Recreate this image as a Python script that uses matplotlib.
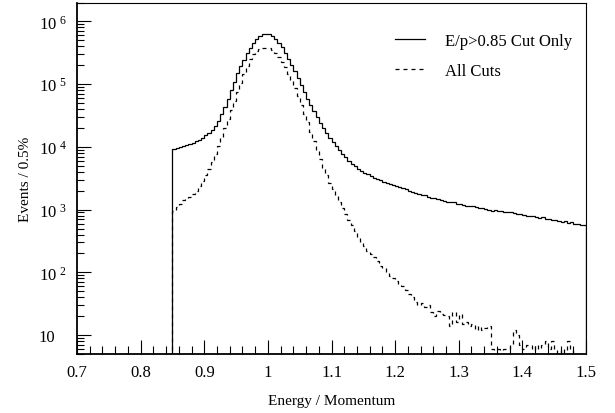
import numpy as np
import matplotlib
matplotlib.use("Agg")
import matplotlib.pyplot as plt
from matplotlib.ticker import FixedLocator, FuncFormatter, MultipleLocator

plt.rcParams['font.family'] = ['Liberation Serif', 'DejaVu Serif']
plt.rcParams['mathtext.fontset'] = 'custom'
plt.rcParams['mathtext.rm'] = 'Liberation Serif'

# 0.5% bins in E/p from 0.85 to 1.50
bin_lo = 0.85
bin_hi = 1.50

# E/p > 0.85 cut only
ep_cut_only = [
    9300, 9600, 9900, 10300, 10700, 11100, 11600, 12300, 13000, 14000,
    15200, 16600, 18500, 21500, 26000, 33000, 43000, 58000, 80000, 110000,
    148000, 195000, 245000, 310000, 380000, 450000, 525000, 585000, 625000, 640000,
    620000, 580000, 520000, 450000, 385000, 315000, 255000, 205000, 160000, 125000,
    98000, 76000, 59000, 46000, 37000, 29500, 24000, 19800, 16500, 14000,
    12000, 10300, 8800, 7700, 6800, 6000, 5400, 4900, 4500, 4200,
    3900, 3650, 3450, 3250, 3100, 2950, 2800, 2680, 2560, 2450,
    2350, 2270, 2180, 2100, 2000, 1920, 1850, 1790, 1720, 1680,
    1610, 1560, 1510, 1470, 1420, 1390, 1330, 1300, 1340, 1230,
    1210, 1180, 1160, 1150, 1160, 1110, 1080, 1050, 1030, 1000,
    960, 990, 950, 960, 920, 900, 920, 880, 860, 850,
    820, 800, 790, 800, 760, 740, 750, 700, 710, 690,
    680, 670, 640, 650, 620, 630, 600, 590, 570, 560,
]

# all cuts applied
all_cuts = [
    950, 1100, 1250, 1400, 1500, 1600, 1750, 2000, 2400, 2900,
    3500, 4400, 5800, 7800, 10500, 14500, 20000, 28000, 39000, 54000,
    75000, 105000, 145000, 195000, 250000, 300000, 335000, 360000, 375000, 380000,
    370000, 345000, 310000, 270000, 225000, 185000, 145000, 113000, 86000, 64000,
    47000, 34000, 24500, 17500, 12400, 8800, 6300, 4600, 3500, 2700,
    2100, 1650, 1300, 1050, 850, 680, 560, 450, 370, 300,
    260, 220, 195, 175, 150, 128, 118, 100, 88, 80,
    72, 65, 60, 52, 46, 40, 34, 30, 33, 28,
    30, 23, 20, 24, 22, 21, 20, 14, 23, 16,
    22, 15, 16, 14, 15, 12, 14, 12, 13, 14,
    6, 5, 6, 0, 6, 6, 7, 12, 10, 7,
    6, 7, 7, 5, 7, 6, 7, 8, 6, 8,
    6, 5, 6, 0, 8, 6, 0, 0, 0, 0,
]

edges = np.linspace(bin_lo, bin_hi, len(ep_cut_only) + 1)

fig = plt.figure(figsize=(6.15, 4.14), dpi=100)
ax = fig.add_axes([77 / 615, 1 - 355 / 414, 509 / 615, 351.5 / 414])

ax.stairs(ep_cut_only, edges, baseline=1e-3, color='black', lw=0.9,
          label='E/p>0.85 Cut Only')
ax.stairs(all_cuts, edges, baseline=1e-3, color='black', lw=0.9,
          linestyle=(0, (3.2, 3.2)), label='All Cuts')

ax.set_yscale('log')
ax.set_xlim(0.7, 1.5)
ax.set_ylim(5, 2e6)

# ROOT-like ticks: inside, bottom and left only
ax.xaxis.set_major_locator(MultipleLocator(0.1))
ax.xaxis.set_minor_locator(MultipleLocator(0.02))
ax.xaxis.set_major_formatter(FuncFormatter(lambda v, p: f'{v:g}'))
ax.yaxis.set_major_locator(FixedLocator([10, 1e2, 1e3, 1e4, 1e5, 1e6]))
minors = [m * 10.0 ** e for e in range(0, 7) for m in range(2, 10)]
ax.yaxis.set_minor_locator(FixedLocator(minors))


def ylab(v, p):
    n = int(round(np.log10(v)))
    if n == 1:
        return '10'
    return r'$\mathregular{10^{\ %d}}$' % n


ax.yaxis.set_major_formatter(FuncFormatter(ylab))
ax.yaxis.set_minor_formatter(FuncFormatter(lambda v, p: ''))

ax.tick_params(axis='both', which='both', direction='in', top=False, right=False,
               width=0.8, labelsize=12)
ax.tick_params(axis='x', which='major', length=10, pad=7)
ax.tick_params(axis='x', which='minor', length=6)
ax.tick_params(axis='y', which='major', length=10, pad=27.5)
ax.tick_params(axis='y', which='minor', length=5)
for lbl in ax.get_yticklabels():
    lbl.set_horizontalalignment('left')

ax.spines['left'].set_linewidth(1.3)
ax.spines['bottom'].set_linewidth(1.3)
ax.spines['top'].set_linewidth(0.8)
ax.spines['right'].set_linewidth(0.8)

ax.set_xlabel('Energy / Momentum', fontsize=11, labelpad=10)
ax.set_ylabel('Events / 0.5%', fontsize=11, labelpad=5)

ax.legend(loc='upper left', bbox_to_anchor=(395 / 615, 1 - 34 / 414),
          bbox_transform=fig.transFigure, frameon=False, borderpad=0,
          borderaxespad=0, fontsize=12, handlelength=1.8, handletextpad=1.2,
          labelspacing=0.85)

fig.savefig('out.png', dpi=100, facecolor='white')
